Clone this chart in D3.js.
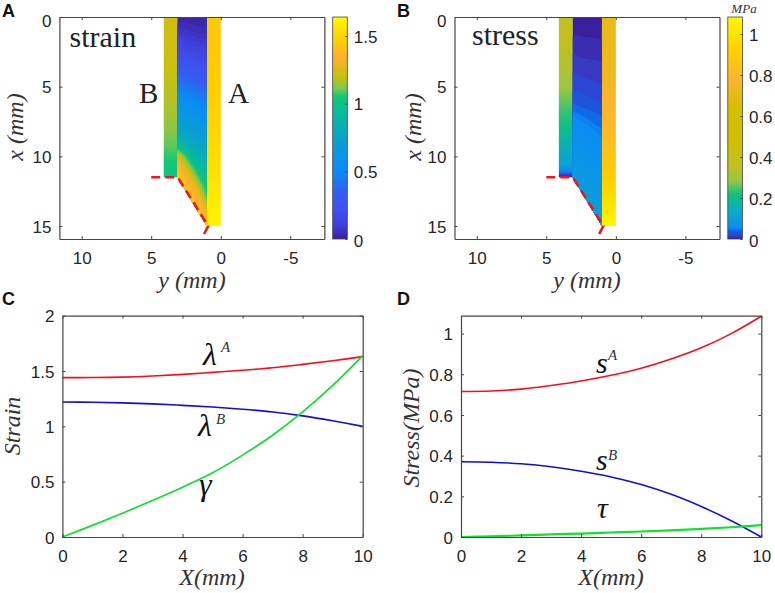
<!DOCTYPE html>
<html><head><meta charset="utf-8">
<script src="https://cdn.jsdelivr.net/npm/d3@7/dist/d3.min.js"></script>
<style>
html,body{margin:0;padding:0;background:#fff}
svg{display:block}
text{font-family:"Liberation Sans",Arial,sans-serif;fill:#262626}
.m{font-family:"Liberation Serif",serif;font-style:italic;fill:#333}
.r{font-family:"Liberation Serif",serif;fill:#222}
</style></head><body>
<svg id="c" width="775" height="593"></svg>
<script>
// ---- curve data, sampled at X = 0..10 mm
const X      = [0,1,2,3,4,5,6,7,8,9,10];
const lambdaA= [1.44,1.441,1.445,1.455,1.47,1.488,1.507,1.53,1.56,1.593,1.63];
const lambdaB= [1.22,1.218,1.212,1.203,1.19,1.175,1.155,1.13,1.095,1.05,1.0];
const gammaV = [0,.105,.215,.33,.45,.58,.74,.92,1.13,1.37,1.64];
const sA     = [.715,.718,.727,.745,.767,.795,.83,.875,.93,1.0,1.085];
const sB     = [.37,.368,.36,.345,.323,.295,.258,.21,.15,.08,0];
const tau    = [0,.003,.008,.013,.017,.022,.027,.033,.04,.048,.058];
// ---- colour read along strip B of the stress plot (x in mm, MPa)
const stressStripX=[0,2,4,5,6,7,8,9,10,10.7,11.1,11.3,11.5];
const stressStripV=[.37,.35,.32,.30,.26,.23,.205,.16,.125,.11,.05,.02,0];
// ---- tick labels
const fieldXTicks=[10,5,0,-5], fieldYTicks=[0,5,10,15];
const curveXTicks=[0,2,4,6,8,10], strainTicks=[0,.5,1,1.5,2], stressTicks=[0,.2,.4,.6,.8,1];
const cbStrainTicks=[0,.5,1,1.5], cbStressTicks=[0,.2,.4,.6,.8,1];
// ---- colour maps (position along the bar 0..1, colour)
const strainPos=[0,.06,.13,.21,.31,.42,.52,.59,.64,.68,.73,.78,.82,.885,1];
const strainCol=["#3a1f9e","#3f3fd8","#4050f0","#3060f0","#0a8cf5","#0a9cd8","#0ab0b0","#0abf90","#10c878","#80c850","#c8bf10","#e8b820","#fdb030","#ffcc00","#fff700"];
const stressPos=[0,.01,.02,.035,.05,.12,.2,.26,.32,.45,.6,.72,.85,1];
const stressCol=["#3a1f9e","#3a38c0","#2a48d8","#1060e0","#0a8cf5","#0aaac8","#10c080","#90c848","#c0c020","#d0bf00","#d6bf00","#fdb52f","#ffd000","#fff700"];
const strainMax=1.64, stressMax=1.083;
// ---- field in the middle strip: rows x=0..16 mm, five columns across it
const strainField=[
 [.02,.02,.02,.02,.02],[.08,.07,.06,.05,.05],[.15,.14,.12,.11,.10],[.24,.22,.20,.18,.17],
 [.36,.33,.30,.27,.25],[.47,.44,.41,.38,.35],[.57,.55,.52,.49,.46],[.67,.64,.61,.58,.55],
 [.76,.73,.70,.67,.64],[.88,.84,.80,.76,.73],[1.30,1.10,.92,.86,.82],[1.42,1.30,1.15,.98,.92],
 [1.55,1.42,1.33,1.15,1.0],[1.58,1.55,1.42,1.33,1.1],[1.6,1.6,1.58,1.45,1.30],[1.62,1.6,1.6,1.58,1.5],[1.62,1.6,1.6,1.6,1.58]];
const stressField=[
 [.001,.001,.001,.001,.001],[.0048,.0046,.0044,.0042,.004],[.009,.0085,.008,.0078,.0075],[.0135,.0125,.012,.0115,.011],
 [.02,.018,.017,.016,.015],[.028,.026,.024,.022,.021],[.039,.036,.033,.030,.028],[.053,.05,.047,.044,.041],
 [.062,.06,.057,.053,.05],[.072,.068,.064,.06,.056],[.08,.076,.072,.068,.064],[.088,.085,.08,.076,.072],
 [.096,.093,.089,.085,.08],[.105,.102,.098,.094,.09],[.115,.112,.108,.104,.1],[.125,.122,.118,.114,.11],[.135,.132,.128,.124,.12]];
const fieldCols=[3.1,2.6,2.05,1.5,1];
const strainLevels=d3.range(0,1.7,.02);
const stressLevels=[0,.006,.012,.02,.03,.042,.05,.054,.058,.062,.066,.07,.074,.078,.082,.086,.09,.094,.098,.102,.106,.11,.114,.118,.122,.126,.13];
// ---- geometry of the specimen, in mm
const edgeB=4.1, edgeMid=3.1, edgeA=1, notchX=11.5, tipX=15;
const outlineY=[5,3.1,.9,1.32], outlineX=[11.5,11.5,15,15.8];

const svg=d3.select("#c"), defs=svg.append("defs");
const AX="#454545";

function frame(g,x,y,xt,yt,xf,yf,nudgeZero){
  const [l,r]=x.range(), b=Math.max(...y.range()), t=Math.min(...y.range());
  const ax=(a,tr,vals,f,lab)=>{
    const s=g.append("g").attr("transform",tr).call(a.tickValues(vals).tickSizeInner(3).tickSizeOuter(0).tickFormat(lab?f:""));
    s.select(".domain").attr("stroke",AX).attr("stroke-width",1.2);
    s.selectAll("line").attr("stroke",AX).attr("stroke-width",1);
    return s;
  };
  const bs=ax(d3.axisBottom(x),`translate(0,${b})`,xt,xf,true);
  bs.selectAll("line").attr("y2",-3);
  bs.selectAll("text").attr("y",25).attr("dy",0).style("font-size","17px");
  ax(d3.axisTop(x),`translate(0,${t})`,xt,xf,false).selectAll("line").attr("y2",3);
  const ls=ax(d3.axisLeft(y),`translate(${l},0)`,yt,yf,true);
  ls.selectAll("line").attr("x2",3);
  ls.selectAll("text").attr("x",-8).attr("dy",d=>(nudgeZero&&d===0)?"0.54em":"0.36em").style("font-size","17px");
  ax(d3.axisRight(y),`translate(${r},0)`,yt,yf,false).selectAll("line").attr("x2",-3);
}
function vGrad(id,stops){
  const g=defs.append("linearGradient").attr("id",id).attr("x1",0).attr("x2",0).attr("y1",0).attr("y2",1);
  stops.forEach(s=>g.append("stop").attr("offset",s[0]).attr("stop-color",s[1]));
}
function fieldPanel(o){
  const x=d3.scaleLinear().domain([11.6,-7.45]).range([o.l,o.l+265]);
  const y=d3.scaleLinear().domain([0,15.93]).range([17,239]);
  const g=svg.append("g");
  const colour=d3.scaleLinear().domain(o.pos.map(p=>p*o.max)).range(o.col).clamp(true);
  vGrad(o.id+"B",o.valsB.map((v,i)=>[o.posB?o.posB[i]/notchX:i/(o.valsB.length-1),colour(v)]));
  g.append("rect").attr("x",x(edgeB)).attr("width",x(edgeMid)-x(edgeB)).attr("y",y(0)).attr("height",y(notchX)-y(0)).attr("fill",`url(#${o.id}B)`);
  vGrad(o.id+"A",o.valsA.map((v,i)=>[i/(o.valsA.length-1),colour(v)]));
  g.append("rect").attr("x",x(edgeA)).attr("width",x(0)-x(edgeA)).attr("y",y(0)).attr("height",y(tipX)-y(0)).attr("fill",`url(#${o.id}A)`);
  const clip=defs.append("clipPath").attr("id",o.id+"clip");
  clip.append("path").attr("d",d3.line().x(d=>x(d[0])).y(d=>y(d[1]))([[edgeMid,0],[edgeA,0],[edgeA,tipX],[edgeMid,notchX]]));
  const nc=fieldCols.length, nr=o.field.length;
  const step=(fieldCols[0]-fieldCols[nc-1])/(nc-1);
  const path=d3.geoPath(d3.geoTransform({point(c,r){this.stream.point(x(fieldCols[0]-(c-.5)*step),y(r-.5));}}));
  const cs=d3.contours().size([nc,nr]).thresholds(o.levels)(o.field.flat());
  g.append("g").attr("clip-path",`url(#${o.id}clip)`).selectAll("path").data(cs).join("path")
    .attr("d",path).attr("fill",d=>colour(d.value));
  g.append("path").attr("d",d3.line().x(d=>x(d)).y((d,i)=>y(outlineX[i]))(outlineY))
    .attr("fill","none").attr("stroke","#f0141e").attr("stroke-width",2.6).attr("stroke-dasharray","9 5");
  frame(g,x,y,fieldXTicks,fieldYTicks,String,String,true);
  const cy=d3.scaleLinear().domain([0,o.max]).range([239,17]);
  const cb=o.l+273.3;
  vGrad(o.id+"cb",o.pos.map((p,i)=>[1-p,o.col[i]]).reverse());
  g.append("rect").attr("x",cb).attr("y",17).attr("width",14.6).attr("height",222).attr("fill",`url(#${o.id}cb)`).attr("stroke",AX).attr("stroke-width",.8);
  const a=g.append("g").attr("transform",`translate(${cb+14.6},0)`).call(d3.axisRight(cy).tickValues(o.ticks).tickSizeInner(-2).tickSizeOuter(0).tickFormat(d3.format("~g")));
  a.select(".domain").remove();
  a.selectAll("line").attr("stroke",AX);
  a.selectAll("text").attr("x",6.5).attr("dy",d=>d===0?"0.46em":"0.36em").style("font-size","17px");
}
fieldPanel({id:"st",l:59.4,valsA:lambdaA,valsB:lambdaB,field:strainField,levels:strainLevels,pos:strainPos,col:strainCol,max:strainMax,ticks:cbStrainTicks});
fieldPanel({id:"ss",l:454.5,valsA:sA,valsB:stressStripV,posB:stressStripX,field:stressField,levels:stressLevels,pos:stressPos,col:stressCol,max:stressMax,ticks:cbStressTicks});

function curvePanel(l,ymax,yt,series,yf){
  const x=d3.scaleLinear().domain([0,10]).range([l,l+300.3]);
  const y=d3.scaleLinear().domain([0,ymax]).range([537,315.7]);
  const g=svg.append("g");
  series.forEach(s=>g.append("path").attr("d",d3.line().x((d,i)=>x(X[i])).y(d=>y(d)).curve(d3.curveCatmullRom)(s.v))
    .attr("fill","none").attr("stroke",s.c).attr("stroke-width",s.w));
  frame(g,x,y,curveXTicks,yt,String,yf,false);
}
curvePanel(62.4,2,strainTicks,[{v:lambdaA,c:"#f01020",w:1.6},{v:lambdaB,c:"#1010d0",w:1.6},{v:gammaV,c:"#10e030",w:1.7}],d3.format("~g"));
curvePanel(461,1.088,stressTicks,[{v:sA,c:"#f01020",w:1.6},{v:sB,c:"#1010d0",w:1.5},{v:tau,c:"#10e030",w:2.2}],d3.format("~g"));

// ---- texts
function t(x,y,s,cls,size,anchor,rot){
  const e=svg.append("text").attr("x",x).attr("y",y).attr("class",cls||null).style("font-size",size+"px").text(s);
  if(anchor)e.attr("text-anchor",anchor);
  if(rot)e.attr("transform",`rotate(${rot} ${x} ${y})`);
  return e;
}
[["A",2,17],["B",397,17],["C",2,305],["D",397,305]].forEach(d=>t(d[1],d[2],d[0],null,18).style("font-weight","bold").style("fill","#111"));
t(69.5,47,"strain","r",30); t(472,45,"stress","r",30);
t(139,103,"B","r",29); t(228,103,"A","r",29);
t(192,288,"y (mm)","m",24,"middle"); t(587,288,"y (mm)","m",24,"middle");
t(23,127,"x (mm)","m",24,"middle",-90); t(421,127,"x (mm)","m",24,"middle",-90);
t(212,585,"X(mm)","m",24,"middle"); t(611,585,"X(mm)","m",24,"middle");
t(20,426,"Strain","m",24,"middle",-90); t(419,428,"Stress(MPa)","m",24,"middle",-90);
t(744,13,"MPa","m",13,"middle");
t(203,365,"λ","m",32).style("fill","#111"); t(221,352,"A","m",15);
t(198,436,"λ","m",32).style("fill","#111"); t(216,424,"B","m",15);
t(199,495,"γ","m",32).style("fill","#111");
t(596,373,"s","m",30).style("fill","#111"); t(608,360,"A","m",15);
t(596,470,"s","m",30).style("fill","#111"); t(608,460,"B","m",15);
t(597,518,"τ","m",30).style("fill","#111");
</script></body></html>
